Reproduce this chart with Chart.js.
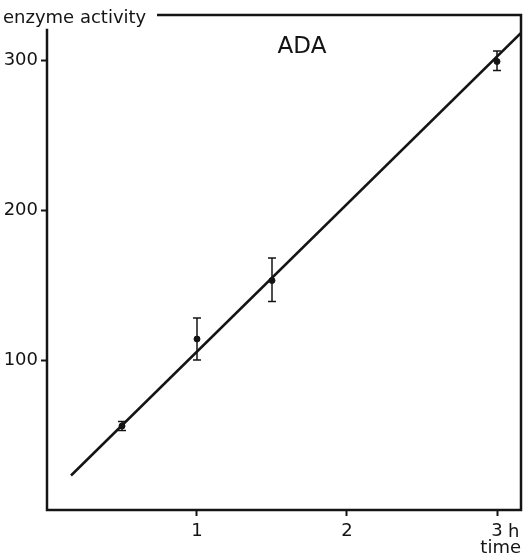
<!DOCTYPE html>
<html>
<head>
<meta charset="utf-8">
<script src="https://cdn.jsdelivr.net/npm/chart.js@4"></script>
<style>
	html, body { margin: 0; padding: 0; background: #fff; }
	#wrap { width: 524px; height: 555px; }
</style>
</head>
<body>
<div id="wrap"><canvas id="ada"></canvas></div>
<script>
// measured points (hours, activity)
var times = [0.5, 1.0, 1.5, 3.0];
var activity = [56, 114, 153, 299];
var errLow = [53, 100, 139, 293];
var errHigh = [59, 128, 168, 306];

// regression line end points
var fitX = [0.16, 3.16];
var fitY = [23, 318];

var xTicks = [1, 2, 3];
var xTickLabels = ['1', '2', '3'];
var yTicks = [100, 200, 300];

var ink = '#141414';
var font = "'DejaVu Sans', sans-serif";

// error bars with small caps
var errorBars = {
	id: 'errorBars',
	afterDatasetsDraw: function (chart) {
		var x = chart.scales.x, y = chart.scales.y, c = chart.ctx;
		c.save();
		c.strokeStyle = ink;
		c.lineWidth = 1.5;
		times.forEach(function (t, i) {
			var px = x.getPixelForValue(t);
			var lo = y.getPixelForValue(errLow[i]);
			var hi = y.getPixelForValue(errHigh[i]);
			c.beginPath();
			c.moveTo(px, lo); c.lineTo(px, hi);
			c.moveTo(px - 4, lo); c.lineTo(px + 4, lo);
			c.moveTo(px - 4, hi); c.lineTo(px + 4, hi);
			c.stroke();
		});
		c.restore();
	}
};

// axes frame and the free texts
var frame = {
	id: 'frame',
	afterDraw: function (chart) {
		var a = chart.chartArea, x = chart.scales.x, y = chart.scales.y, c = chart.ctx;
		c.save();
		c.strokeStyle = ink;
		c.lineWidth = 2.5;
		c.lineCap = 'square';

		c.font = '18px ' + font;
		c.fillStyle = ink;
		c.textBaseline = 'alphabetic';
		c.textAlign = 'left';
		c.fillText('enzyme activity', 3, 23);
		var textEnd = 3 + c.measureText('enzyme activity').width;

		c.beginPath();
		c.moveTo(a.left, y.getPixelForValue(320));
		c.lineTo(a.left, a.bottom);
		c.lineTo(a.right, a.bottom);
		c.lineTo(a.right, a.top);
		c.lineTo(textEnd + 12, a.top);
		c.stroke();

		c.font = '23px ' + font;
		c.textAlign = 'center';
		c.fillText('ADA', 302, 53);

		c.font = '18px ' + font;
		c.textAlign = 'left';
		c.fillText('h', x.getPixelForValue(3) + 11, 537);
		c.textAlign = 'right';
		c.fillText('time', a.right, 553);
		c.restore();
	}
};

new Chart(document.getElementById('ada'), {
	type: 'scatter',
	data: {
		datasets: [
			{
				type: 'line',
				label: 'fit',
				data: fitX.map(function (v, i) { return { x: v, y: fitY[i] }; }),
				borderColor: ink,
				borderWidth: 2.5,
				pointRadius: 0,
				fill: false
			},
			{
				label: 'ADA',
				data: times.map(function (v, i) { return { x: v, y: activity[i] }; }),
				backgroundColor: ink,
				borderColor: ink,
				pointRadius: 3
			}
		]
	},
	options: {
		responsive: true,
		maintainAspectRatio: false,
		animation: false,
		layout: { autoPadding: false, padding: { top: 15, right: 3, left: 0, bottom: 0 } },
		plugins: {
			legend: { display: false },
			tooltip: { enabled: false }
		},
		scales: {
			x: {
				type: 'linear',
				min: 0,
				max: 3.16,
				afterBuildTicks: function (s) { s.ticks = xTicks.map(function (v) { return { value: v }; }); },
				afterFit: function (s) { s.height = 45; s.paddingLeft = 0; s.paddingRight = 0; },
				border: { display: false },
				grid: { drawOnChartArea: false, drawTicks: true, tickLength: 6, tickColor: ink, tickWidth: 2 },
				ticks: {
					color: ink,
					padding: 5,
					maxRotation: 0,
					font: { family: font, size: 18 },
					callback: function (v) { return xTickLabels[xTicks.indexOf(v)]; }
				}
			},
			y: {
				type: 'linear',
				min: 0,
				max: 330,
				afterBuildTicks: function (s) { s.ticks = yTicks.map(function (v) { return { value: v }; }); },
				afterFit: function (s) { s.width = 47; s.paddingTop = 0; s.paddingBottom = 0; },
				border: { display: false },
				grid: { drawOnChartArea: false, drawTicks: true, tickLength: 6, tickColor: ink, tickWidth: 2 },
				ticks: {
					color: ink,
					padding: 3,
					font: { family: font, size: 18 },
					callback: function (v) { return String(v); }
				}
			}
		}
	},
	plugins: [errorBars, frame]
});
</script>
</body>
</html>
